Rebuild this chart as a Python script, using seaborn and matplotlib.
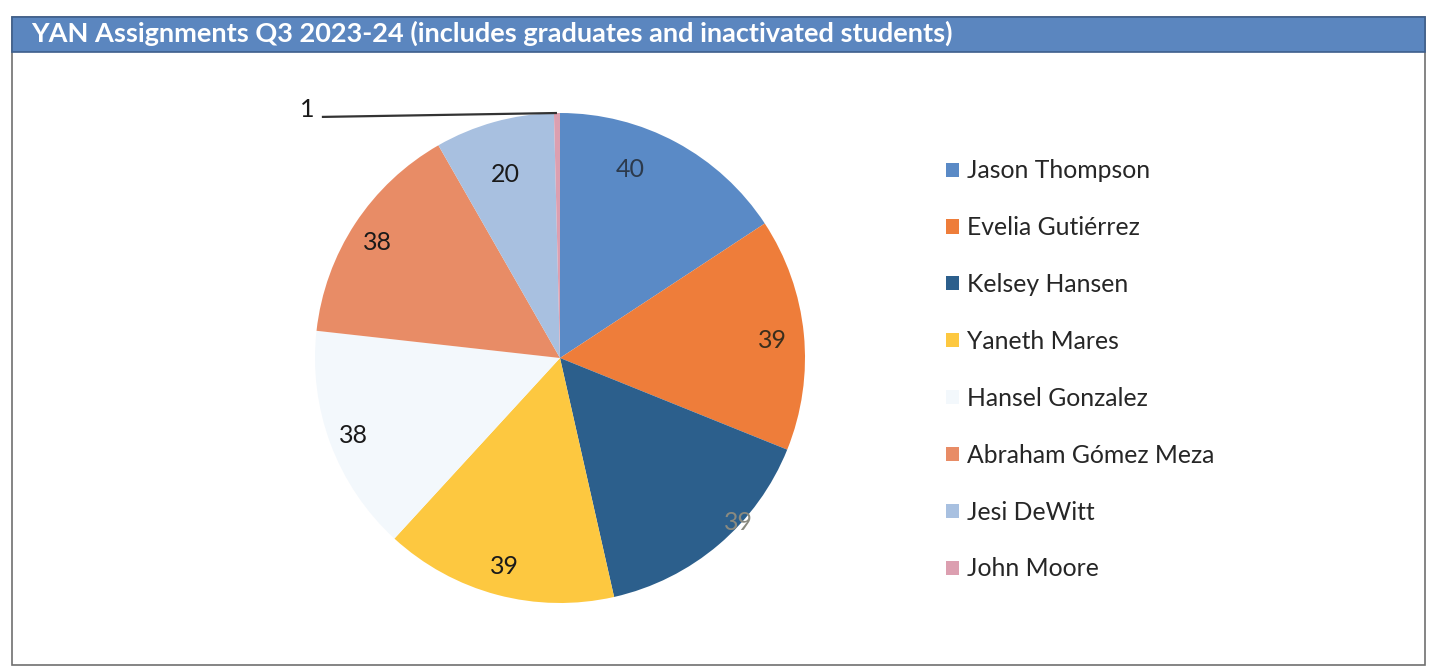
import numpy as np
import matplotlib
matplotlib.use("Agg")
import matplotlib.pyplot as plt
from matplotlib.patches import Rectangle
import seaborn as sns

# Chart data
names = ["Jason Thompson", "Evelia Gutiérrez", "Kelsey Hansen", "Yaneth Mares",
         "Hansel Gonzalez", "Abraham Gómez Meza", "Jesi DeWitt", "John Moore"]
counts = [40, 39, 39, 39, 38, 38, 20, 1]
title = "YAN Assignments Q3 2023-24 (includes graduates and inactivated students)"

colors = ["#5a8ac6", "#ee7d3a", "#2c5f8c", "#fdc840",
          "#f3f8fc", "#e88c66", "#a8c0e0", "#dc9fb0"]
label_colors = ["#2c3a4c", "#3a2e1c", "#8a8a80", "#1a1a1a",
                "#1a1a1a", "#1a1a1a", "#1a1a1a", "#1a1a1a"]
# radial position (fraction of radius) and angular nudge (deg) for each value label
label_r = [0.82, 0.87, 0.99, 0.88, 0.90, 0.88, 0.78, None]
label_shift = [-8, 1, -7, 0, 0, -1, -1, 0]

sns.set_theme(style="white")
plt.rcParams["font.family"] = ["Lato", "DejaVu Sans"]

W, H = 1442, 669
fig = plt.figure(figsize=(W / 100, H / 100), dpi=100)
fig.patch.set_facecolor("white")

# outer frame and title band
fig.patches.append(Rectangle((12 / W, 1 - 665 / H), (1425 - 12) / W, (665 - 17) / H,
                             transform=fig.transFigure, facecolor="none",
                             edgecolor="#707070", linewidth=1.2))
fig.patches.append(Rectangle((12 / W, 1 - 52 / H), (1425 - 12) / W, (52 - 17) / H,
                             transform=fig.transFigure, facecolor="#5b86bf",
                             edgecolor="#3e5f8c", linewidth=1.2))
fig.text(31 / W, 1 - 33 / H, title, color="white", fontsize=19.5, fontweight="bold",
         ha="left", va="center")

# pie axes centred at (560, 358) px with radius 245 px
cx, cy, r = 560, 358, 245
ax = fig.add_axes([(cx - r) / W, (H - cy - r) / H, 2 * r / W, 2 * r / H])
wedges, _ = ax.pie(counts, colors=colors, startangle=90, counterclock=False,
                   radius=1.0, wedgeprops=dict(linewidth=0))
ax.set_xlim(-1, 1)
ax.set_ylim(-1, 1)
ax.set_aspect("equal")
ax.axis("off")

for i, w in enumerate(wedges):
    mid = np.deg2rad((w.theta1 + w.theta2) / 2 - label_shift[i])
    if label_r[i] is None:
        # leader line from the tiny slice out to the left
        ex, ey = np.cos(mid), np.sin(mid)
        lx, ly = -0.972, 0.984
        ax.plot([lx, ex], [ly, ey], color="#333333", lw=1.6,
                solid_capstyle="butt", clip_on=False)
        ax.text(-1.03, 1.015, str(counts[i]), fontsize=18, color="#1a1a1a",
                ha="center", va="center", clip_on=False)
    else:
        rr = label_r[i]
        ax.text(np.cos(mid) * rr, np.sin(mid) * rr, str(counts[i]), fontsize=18,
                color=label_colors[i], ha="center", va="center")

# legend
handles = [Rectangle((0, 0), 1, 1, facecolor=c, edgecolor="none") for c in colors]
leg = fig.legend(handles, names, loc="upper left",
                 bbox_to_anchor=(934 / W, 1 - 147 / H), frameon=False,
                 fontsize=17.8, handlelength=0.5, handleheight=0.5,
                 handletextpad=0.35, labelspacing=1.37, borderpad=0)

fig.savefig("out.png", dpi=100, facecolor="white")
